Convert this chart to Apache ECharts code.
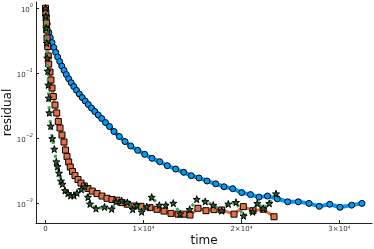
<!DOCTYPE html>
<html>
<head>
<meta charset="utf-8">
<script src="https://cdn.jsdelivr.net/npm/echarts@6/dist/echarts.min.js"></script>
<style>
html,body{margin:0;padding:0;background:#fff;}
#chart{width:374px;height:249px;}
</style>
</head>
<body>
<div id="chart"></div>
<script>
// ---- data ----
const blueTime = [0,71,174,327,490,664,847,1041,1245,1450,1664,1889,2123,2368,2623,2889,3164,3450,3746,4053,4369,4696,5033,5380,5737,6125,6533,6992,7534,8115,8697,9412,10126,10872,11658,12433,13291,14108,14883,15670,16486,17374,18221,19109,20028,20926,21794,22662,23662,24724,25806,26898,27950,29011,30063,31257,32308];
const blueResidual = [1,0.761,0.574,0.428,0.356,0.298,0.250,0.211,0.1786,0.1523,0.1299,0.1116,0.0962,0.0829,0.0720,0.0629,0.0550,0.0483,0.0426,0.0377,0.0333,0.0294,0.0260,0.0230,0.0203,0.01762,0.01530,0.01282,0.01074,0.00900,0.00768,0.00659,0.00572,0.00497,0.00441,0.00383,0.00340,0.00303,0.00269,0.00248,0.00223,0.00202,0.00182,0.00170,0.00148,0.00138,0.00126,0.00131,0.00119,0.00107,0.00107,0.00101,0.00091,0.00098,0.00088,0.00095,0.00101];

const orangeTime = [0,31,61,92,122,153,225,286,327,459,561,664,796,970,1143,1307,1480,1684,1888,2042,2195,2368,2532,2756,3011,3318,3624,3961,4338,4777,5257,5768,6278,6788,7299,7779,8350,9034,9749,10667,11382,12096,12811,13526,14138,14751,15567,16384,17201,17987,19242,20192,21182,22233,23326];
const orangeResidual = [1,0.846,0.709,0.594,0.464,0.350,0.259,0.185,0.1394,0.1051,0.0792,0.0597,0.0442,0.0327,0.0247,0.01826,0.01451,0.01132,0.00884,0.00666,0.00530,0.00436,0.00365,0.00312,0.00270,0.00235,0.00207,0.00187,0.00171,0.00156,0.00143,0.00131,0.00121,0.00116,0.00113,0.00104,0.00098,0.00092,0.00091,0.00087,0.00082,0.00077,0.00071,0.00069,0.00069,0.00067,0.00085,0.00078,0.00081,0.00080,0.00069,0.00090,0.00078,0.00082,0.00063];

const greenTime = [0,41,71,122,174,225,286,327,388,531,694,898,1102,1225,1378,1582,1735,1991,2297,2572,2909,3216,3654,4032,4338,4543,5155,6023,6758,7197,7779,8350,8901,9310,9820,10331,10841,11617,12270,13046,13760,14720,15435,16313,17129,17987,18660,19446,20212,21151,21621,22233,22846,23530];
const greenResidual = [1,0.761,0.498,0.293,0.1723,0.1089,0.0664,0.0419,0.0249,0.01557,0.0100,0.00690,0.00441,0.00372,0.00295,0.00223,0.00200,0.00159,0.00143,0.00133,0.00133,0.00146,0.00166,0.00182,0.00126,0.00099,0.00084,0.00089,0.00083,0.00107,0.00111,0.00105,0.00082,0.00095,0.00075,0.00090,0.00126,0.00095,0.00095,0.00102,0.00070,0.00082,0.00117,0.00108,0.00095,0.00078,0.00099,0.00105,0.00065,0.00075,0.00101,0.00085,0.00101,0.00142];

const xTickValues = [0, 10000, 20000, 30000];
const xTickLabels = ['0', '1×10⁴', '2×10⁴', '3×10⁴'];
const yTickValues = [1, 0.1, 0.01, 0.001];
const yTickExponents = ['0', '−1', '−2', '−3'];

const pairs = (t, r) => t.map((v, i) => [v, r[i]]);
const STAR = 'path://M50,0 L61,35 L98,35 L68,57 L79,91 L50,70 L21,91 L32,57 L2,35 L39,35 Z';

const chart = echarts.init(document.getElementById('chart'), null, {renderer: 'canvas'});
const font = 'DejaVu Sans';
chart.setOption({
  animation: false,
  backgroundColor: '#ffffff',
  textStyle: {fontFamily: font},
  grid: {left: 36, right: 2, top: 2, bottom: 26, containLabel: false, outerBoundsMode: 'none'},
  xAxis: {
    type: 'value', min: -970, max: 33330,
    name: 'time', nameLocation: 'middle', nameGap: 12, nameMoveOverlap: false,
    nameTextStyle: {fontSize: 12, color: '#111', fontFamily: font},
    axisLine: {show: true, onZero: false, lineStyle: {color: '#222', width: 1}},
    axisTick: {show: true, inside: true, length: 3, lineStyle: {color: '#222'}, customValues: xTickValues},
    axisLabel: {customValues: xTickValues, margin: 3, fontSize: 7, color: '#333', fontFamily: font,
      formatter: v => xTickLabels[xTickValues.indexOf(v)] ?? ''},
    splitLine: {show: false}
  },
  yAxis: {
    type: 'log', logBase: 10, min: 5.05e-4, max: 1.249,
    name: 'residual', nameLocation: 'middle', nameGap: 22, nameMoveOverlap: false,
    nameTextStyle: {fontSize: 12, color: '#111', fontFamily: font},
    axisLine: {show: true, onZero: false, lineStyle: {color: '#222', width: 1}},
    axisTick: {show: true, inside: true, length: 3, lineStyle: {color: '#222'}, customValues: yTickValues},
    axisLabel: {customValues: yTickValues, margin: 3, color: '#333', fontFamily: font,
      formatter: v => {
        let k = -1;
        yTickValues.forEach((tv, i) => { if (Math.abs(Math.log10(tv) - Math.log10(v)) < 1e-6) k = i; });
        return k < 0 ? '' : '{b|10}{s|' + yTickExponents[k] + '}';
      },
      rich: {
        b: {fontSize: 7, color: '#333', fontFamily: font, lineHeight: 10, verticalAlign: 'bottom'},
        s: {fontSize: 5, color: '#333', fontFamily: font, fontStyle: 'italic', lineHeight: 10, verticalAlign: 'top'}
      }
    },
    splitLine: {show: false}
  },
  series: [
    {
      type: 'line', data: pairs(blueTime, blueResidual),
      lineStyle: {color: '#009AFA', width: 4},
      symbol: 'circle', symbolSize: 6,
      itemStyle: {color: '#009AFA', borderColor: '#000', borderWidth: 1},
      z: 2
    },
    {
      type: 'line', data: pairs(orangeTime, orangeResidual),
      lineStyle: {color: '#E36F47', width: 3},
      symbol: 'rect', symbolSize: 6,
      itemStyle: {color: '#E36F47', borderColor: '#000', borderWidth: 1},
      z: 3
    },
    {
      type: 'line', data: pairs(greenTime, greenResidual),
      lineStyle: {color: '#3EA44E', width: 3, type: [3, 4]},
      symbol: STAR, symbolSize: 7,
      itemStyle: {color: '#2c5e33', borderColor: '#000', borderWidth: 1},
      z: 4
    }
  ]
});
</script>
</body>
</html>
